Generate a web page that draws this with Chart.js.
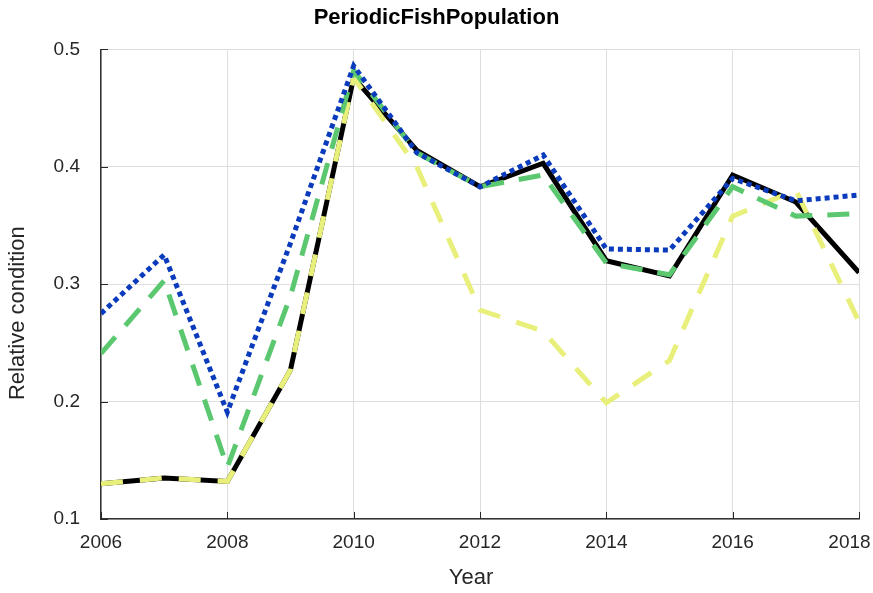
<!DOCTYPE html>
<html>
<head>
<meta charset="utf-8">
<script src="https://cdn.jsdelivr.net/npm/chart.js@4.4.1/dist/chart.umd.min.js"></script>
<style>
  html, body { margin: 0; padding: 0; background: #fff; }
  #wrap { width: 873px; height: 593px; }
</style>
</head>
<body>
<div id="wrap"><canvas id="fish" width="873" height="593"></canvas></div>
<script>
// data
const years = [2006, 2007, 2008, 2009, 2010, 2011, 2012, 2013, 2014, 2015, 2016, 2017, 2018];
const blackVals  = [0.130, 0.135, 0.132, 0.227, 0.476, 0.414, 0.383, 0.403, 0.320, 0.307, 0.393, 0.370, 0.310];
const blueVals   = [0.275, 0.325, 0.191, 0.335, 0.486, 0.412, 0.383, 0.410, 0.330, 0.329, 0.390, 0.371, 0.376];
const greenVals  = [0.241, 0.303, 0.144, 0.290, 0.482, 0.412, 0.383, 0.393, 0.318, 0.308, 0.383, 0.358, 0.360];
const yellowVals = [0.130, 0.135, 0.132, 0.227, 0.476, 0.400, 0.278, 0.260, 0.199, 0.235, 0.358, 0.380, 0.268];
const yTicks = [0.1, 0.2, 0.3, 0.4, 0.5];
const xTicks = [2006, 2008, 2010, 2012, 2014, 2016, 2018];
const xTitle = 'Year';
const yTitle = 'Relative condition';

const FONT = "'Liberation Sans', Arial, Helvetica, sans-serif";
const TXT = '#262626';

function pts(vals) {
    return years.map((y, i) => ({ x: y, y: vals[i] }));
}

function series(label, vals, color, dash, order) {
    return {
        label: label,
        data: pts(vals),
        borderColor: color,
        backgroundColor: color,
        borderWidth: 5,
        borderDash: dash,
        borderCapStyle: 'butt',
        borderJoinStyle: 'miter',
        pointRadius: 0,
        tension: 0,
        fill: false,
        order: order
    };
}

// inward tick marks + axis titles placed like the original
const axisDeco = {
    id: 'axisDeco',
    afterDraw(chart) {
        const ctx = chart.ctx;
        const a = chart.chartArea;
        const xs = chart.scales.x, ys = chart.scales.y;
        ctx.save();
        ctx.strokeStyle = '#262626';
        ctx.lineWidth = 1;
        ctx.beginPath();
        yTicks.forEach(v => {
            const p = Math.round(ys.getPixelForValue(v)) + 0.5;
            ctx.moveTo(a.left, p);
            ctx.lineTo(a.left + 7, p);
        });
        xTicks.forEach(v => {
            const p = Math.round(xs.getPixelForValue(v)) + 0.5;
            ctx.moveTo(p, a.bottom);
            ctx.lineTo(p, a.bottom - 7);
        });
        ctx.stroke();

        ctx.fillStyle = TXT;
        ctx.font = '22px ' + FONT;
        ctx.textAlign = 'center';
        ctx.textBaseline = 'middle';
        ctx.fillText(xTitle, (a.left + a.right) / 2 - 9, chart.height - 15);
        ctx.translate(18, (a.top + a.bottom) / 2 + 29);
        ctx.rotate(-Math.PI / 2);
        ctx.fillText(yTitle, 0, 0);
        ctx.restore();
    }
};

new Chart(document.getElementById('fish'), {
    type: 'line',
    data: {
        datasets: [
            series('Series 1', blackVals, '#000000', [], 4),
            series('Series 4', yellowVals, '#e8ef7a', [22, 17], 3),
            series('Series 3', greenVals, '#5bc870', [22, 15], 2),
            series('Series 2', blueVals, '#0b3bbd', [5, 4], 1)
        ]
    },
    plugins: [axisDeco],
    options: {
        responsive: false,
        animation: false,
        layout: { padding: 0 },
        plugins: {
            legend: { display: false },
            tooltip: { enabled: false },
            title: {
                display: true,
                text: 'PeriodicFishPopulation',
                color: '#000',
                font: { family: FONT, size: 22, weight: 'bold' },
                padding: { top: 5, bottom: 18 }
            }
        },
        scales: {
            x: {
                type: 'linear',
                min: 2006,
                max: 2018,
                afterBuildTicks: s => { s.ticks = xTicks.map(v => ({ value: v })); },
                afterFit: s => { s.height = 74; s.paddingLeft = 0; s.paddingRight = 14; },
                ticks: {
                    color: TXT,
                    padding: 12,
                    maxRotation: 0,
                    font: { family: FONT, size: 19 },
                    // last label sits pulled in from the right edge
                    callback: (v, i, all) => i === all.length - 1 ? String(v) + '\u2003' : String(v)
                },
                grid: { color: '#dedede', drawTicks: false, lineWidth: 1 },
                border: { color: '#333', width: 1.5 }
            },
            y: {
                min: 0.1,
                max: 0.5,
                afterBuildTicks: s => { s.ticks = yTicks.map(v => ({ value: v })); },
                afterFit: s => { s.width = 101; },
                ticks: {
                    color: TXT,
                    padding: 21,
                    font: { family: FONT, size: 19 },
                    callback: v => v.toFixed(1)
                },
                grid: { color: '#dedede', drawTicks: false, lineWidth: 1 },
                border: { color: '#333', width: 1.5 }
            }
        }
    }
});
</script>
</body>
</html>
